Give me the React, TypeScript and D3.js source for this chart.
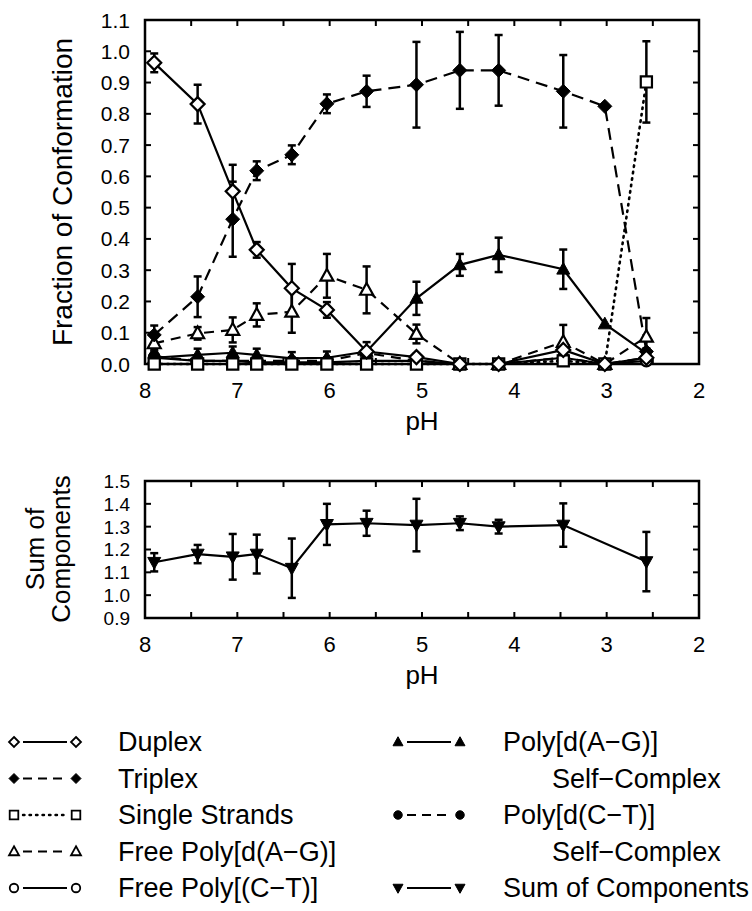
import { useEffect, useRef } from 'react'
import * as d3 from 'd3'

// pH of every measurement (top panel); the sum panel has no point at 3.02
const PH = [7.9, 7.43, 7.05, 6.79, 6.41, 6.03, 5.6, 5.06, 4.59, 4.17, 3.47, 3.02, 2.57]
const SUM_PH = [7.9, 7.43, 7.05, 6.79, 6.41, 6.03, 5.6, 5.06, 4.59, 4.17, 3.47, 2.57]

const DUPLEX = [0.963, 0.831, 0.552, 0.365, 0.242, 0.173, 0.04, 0.022, 0, 0, 0.045, 0, 0.02]
const DUPLEX_ERR = [0.03, 0.062, 0.085, 0.025, 0.078, 0.025, 0.01, 0.01, 0, 0, 0.02, 0, 0.01]
const TRIPLEX = [0.093, 0.215, 0.463, 0.618, 0.669, 0.832, 0.872, 0.893, 0.939, 0.939, 0.872, 0.824, 0.04]
const TRIPLEX_ERR = [0.03, 0.065, 0.12, 0.03, 0.03, 0.03, 0.05, 0.137, 0.123, 0.113, 0.116, 0, 0.01]
const SINGLE = [0, 0, 0, 0, 0, 0, 0, 0, 0, 0, 0.01, 0, 0.902]
const SINGLE_ERR = [0, 0, 0, 0, 0, 0, 0, 0, 0, 0, 0.01, 0, 0.13]
const FREE_AG = [0.066, 0.098, 0.109, 0.157, 0.167, 0.282, 0.237, 0.096, 0, 0, 0.07, 0, 0.087]
const FREE_AG_ERR = [0.02, 0.02, 0.04, 0.037, 0.067, 0.07, 0.075, 0.03, 0, 0, 0.055, 0, 0.06]
const FREE_CT = [0.02, 0.01, 0.01, 0.005, 0.005, 0.005, 0.01, 0.01, 0, 0, 0.02, 0, 0.01]
const FREE_CT_ERR = [0.01, 0.01, 0.01, 0.01, 0.01, 0.01, 0.01, 0.01, 0, 0, 0.01, 0, 0.01]
const AG_SELF = [0.02, 0.029, 0.036, 0.029, 0.018, 0.02, 0.04, 0.21, 0.317, 0.349, 0.303, 0.128, 0.034]
const AG_SELF_ERR = [0.02, 0.02, 0.02, 0.02, 0.02, 0.02, 0.03, 0.053, 0.035, 0.055, 0.063, 0, 0.01]
const CT_SELF = [0.025, 0.01, 0.01, 0.01, 0.01, 0.01, 0.035, 0.01, 0, 0, 0.02, 0, 0.02]
const CT_SELF_ERR = [0.01, 0.01, 0.01, 0.01, 0.01, 0.01, 0.01, 0.01, 0, 0, 0.01, 0, 0.01]

const SUM = [1.144, 1.18, 1.168, 1.18, 1.118, 1.31, 1.315, 1.307, 1.315, 1.3, 1.307, 1.147]
const SUM_ERR = [0.04, 0.04, 0.1, 0.085, 0.13, 0.09, 0.055, 0.115, 0.03, 0.03, 0.095, 0.13]

const X_TICKS = [8, 7, 6, 5, 4, 3, 2]
const TOP_Y_TICKS = [0, 0.1, 0.2, 0.3, 0.4, 0.5, 0.6, 0.7, 0.8, 0.9, 1.0, 1.1]
const BOT_Y_TICKS = [0.9, 1.0, 1.1, 1.2, 1.3, 1.4, 1.5]

const FONT = '"Liberation Sans", Arial, sans-serif'

type Shape = 'diamond' | 'square' | 'triangle' | 'triangleDown' | 'circle'

function markerPath(shape: Shape, s: number) {
  // s = half width of the marker
  switch (shape) {
    case 'diamond': return `M0,${-s}L${s},0L0,${s}L${-s},0Z`
    case 'square': return `M${-s * 0.86},${-s * 0.86}H${s * 0.86}V${s * 0.86}H${-s * 0.86}Z`
    case 'triangle': return `M0,${-s * 1.05}L${s},${s * 0.75}L${-s},${s * 0.75}Z`
    case 'triangleDown': return `M${-s},${-s * 0.75}L${s},${-s * 0.75}L0,${s * 1.05}Z`
    default: return d3.arc()({ innerRadius: 0, outerRadius: s * 0.85, startAngle: 0, endAngle: 2 * Math.PI }) as string
  }
}

const SERIES = [
  { name: 'Free Poly[(C-T)]', values: FREE_CT, err: FREE_CT_ERR, shape: 'circle' as Shape, filled: false, dash: null },
  { name: 'Poly[d(C-T)]', values: CT_SELF, err: CT_SELF_ERR, shape: 'circle' as Shape, filled: true, dash: '10,7' },
  { name: 'Poly[d(A-G)]', values: AG_SELF, err: AG_SELF_ERR, shape: 'triangle' as Shape, filled: true, dash: null },
  { name: 'Free Poly[d(A-G)]', values: FREE_AG, err: FREE_AG_ERR, shape: 'triangle' as Shape, filled: false, dash: '10,7' },
  { name: 'Single Strands', values: SINGLE, err: SINGLE_ERR, shape: 'square' as Shape, filled: false, dash: '1.5,5' },
  { name: 'Triplex', values: TRIPLEX, err: TRIPLEX_ERR, shape: 'diamond' as Shape, filled: true, dash: '12,7' },
  { name: 'Duplex', values: DUPLEX, err: DUPLEX_ERR, shape: 'diamond' as Shape, filled: false, dash: null },
]

export default function App() {
  const ref = useRef<SVGSVGElement>(null)

  useEffect(() => {
    const svg = d3.select(ref.current)
    svg.selectAll('*').remove()

    const x = d3.scaleLinear().domain([8, 2]).range([145, 699])
    const yTop = d3.scaleLinear().domain([0, 1.1]).range([364, 20])
    const yBot = d3.scaleLinear().domain([0.9, 1.5]).range([618, 481])

    function frame(y: d3.ScaleLinear<number, number>, yTicks: number[], labelSize: number) {
      const g = svg.append('g')
      const [yb, yt] = y.range()
      g.append('rect')
        .attr('x', 145).attr('y', yt).attr('width', 699 - 145).attr('height', yb - yt)
        .attr('fill', 'none').attr('stroke', '#000').attr('stroke-width', 2.5)
      // inward ticks on all four sides
      d3.range(2, 8.01, 0.5).forEach(p => {
        g.append('line').attr('x1', x(p)).attr('x2', x(p)).attr('y1', yb).attr('y2', yb - 6)
          .attr('stroke', '#000').attr('stroke-width', 2)
        g.append('line').attr('x1', x(p)).attr('x2', x(p)).attr('y1', yt).attr('y2', yt + 6)
          .attr('stroke', '#000').attr('stroke-width', 2)
      })
      yTicks.forEach(v => {
        g.append('line').attr('x1', 145).attr('x2', 151).attr('y1', y(v)).attr('y2', y(v))
          .attr('stroke', '#000').attr('stroke-width', 2)
        g.append('line').attr('x1', 699).attr('x2', 693).attr('y1', y(v)).attr('y2', y(v))
          .attr('stroke', '#000').attr('stroke-width', 2)
        g.append('text').attr('x', 130).attr('y', y(v)).attr('dy', '0.36em')
          .attr('text-anchor', 'end').attr('font-size', labelSize).attr('font-family', FONT)
          .text(v.toFixed(1))
      })
      X_TICKS.forEach(p => {
        g.append('text').attr('x', x(p)).attr('y', yb + 34)
          .attr('text-anchor', 'middle').attr('font-size', 22).attr('font-family', FONT)
          .text(p)
      })
      g.append('text').attr('x', (145 + 699) / 2).attr('y', yb + 66)
        .attr('text-anchor', 'middle').attr('font-size', 26).attr('font-family', FONT)
        .text('pH')
      return g
    }

    function errBars(g: any, xs: number[], vals: number[], errs: number[], y: d3.ScaleLinear<number, number>) {
      vals.forEach((v, i) => {
        const e = errs[i]
        if (!e) return
        const cx = x(xs[i])
        const y1 = y(v - e), y2 = y(v + e)
        g.append('line').attr('x1', cx).attr('x2', cx).attr('y1', y1).attr('y2', y2)
          .attr('stroke', '#000').attr('stroke-width', 2.5)
        ;[y1, y2].forEach(yy => g.append('line').attr('x1', cx - 4).attr('x2', cx + 4)
          .attr('y1', yy).attr('y2', yy).attr('stroke', '#000').attr('stroke-width', 2.5))
      })
    }

    function markers(g: any, xs: number[], vals: number[], y: d3.ScaleLinear<number, number>, shape: Shape, filled: boolean, s: number) {
      vals.forEach((v, i) => {
        g.append('path')
          .attr('transform', `translate(${x(xs[i])},${y(v)})`)
          .attr('d', markerPath(shape, s))
          .attr('fill', filled ? '#000' : '#fff')
          .attr('stroke', '#000').attr('stroke-width', filled ? 1 : 2.2)
      })
    }

    // ── top panel ──
    const top = frame(yTop, TOP_Y_TICKS, 21)
    svg.append('text')
      .attr('transform', 'translate(72,192) rotate(-90)')
      .attr('text-anchor', 'middle').attr('font-size', 28).attr('font-family', FONT)
      .text('Fraction of Conformation')

    SERIES.forEach(s => {
      const line = d3.line<number>().x((d, i) => x(PH[i])).y(d => yTop(d))
      top.append('path').attr('d', line(s.values))
        .attr('fill', 'none').attr('stroke', '#000').attr('stroke-width', s.dash === '1.5,5' ? 2.6 : 2.2)
        .attr('stroke-linecap', s.dash === '1.5,5' ? 'round' : 'butt')
        .attr('stroke-dasharray', s.dash)
    })
    SERIES.forEach(s => errBars(top, PH, s.values, s.err, yTop))
    SERIES.forEach(s => markers(top, PH, s.values, yTop, s.shape, s.filled, s.shape === 'diamond' ? 7 : 6.5))

    // ── bottom panel ──
    const bot = frame(yBot, BOT_Y_TICKS, 19)
    svg.append('text')
      .attr('transform', 'translate(44,549) rotate(-90)')
      .attr('text-anchor', 'middle').attr('font-size', 26).attr('font-family', FONT)
      .text('Sum of')
    svg.append('text')
      .attr('transform', 'translate(70,549) rotate(-90)')
      .attr('text-anchor', 'middle').attr('font-size', 26).attr('font-family', FONT)
      .text('Components')
    const sumLine = d3.line<number>().x((d, i) => x(SUM_PH[i])).y(d => yBot(d))
    bot.append('path').attr('d', sumLine(SUM))
      .attr('fill', 'none').attr('stroke', '#000').attr('stroke-width', 2.2)
    errBars(bot, SUM_PH, SUM, SUM_ERR, yBot)
    markers(bot, SUM_PH, SUM, yBot, 'triangleDown', true, 6.5)

    // ── legend ──
    const rowY = (r: number) => 742 + r * 36.5
    const legendLeft = [
      { label: 'Duplex', shape: 'diamond' as Shape, filled: false, dash: null },
      { label: 'Triplex', shape: 'diamond' as Shape, filled: true, dash: '9,6' },
      { label: 'Single Strands', shape: 'square' as Shape, filled: false, dash: '1.5,5' },
      { label: 'Free Poly[d(A-G)]', shape: 'triangle' as Shape, filled: false, dash: '9,6' },
      { label: 'Free Poly[(C-T)]', shape: 'circle' as Shape, filled: false, dash: null },
    ]
    const legendRight = [
      { row: 0, label: 'Poly[d(A-G)]', sub: 'Self\u2212Complex', shape: 'triangle' as Shape, filled: true, dash: null },
      { row: 2, label: 'Poly[d(C-T)]', sub: 'Self\u2212Complex', shape: 'circle' as Shape, filled: true, dash: '9,6' },
      { row: 4, label: 'Sum of Components', sub: null, shape: 'triangleDown' as Shape, filled: true, dash: null },
    ]
    const lg = svg.append('g')
    function legendKey(xa: number, xb: number, yy: number, shape: Shape, filled: boolean, dash: string | null) {
      lg.append('line').attr('x1', xa + 9).attr('x2', xb - 9).attr('y1', yy).attr('y2', yy)
        .attr('stroke', '#000').attr('stroke-width', dash === '1.5,5' ? 2.4 : 2.2)
        .attr('stroke-linecap', dash === '1.5,5' ? 'round' : 'butt')
        .attr('stroke-dasharray', dash)
      ;[xa, xb].forEach(xx => lg.append('path')
        .attr('transform', `translate(${xx},${yy})`)
        .attr('d', markerPath(shape, 5))
        .attr('fill', filled ? '#000' : '#fff')
        .attr('stroke', '#000').attr('stroke-width', filled ? 1 : 1.8))
    }
    const fmt = (t: string) => t.replace(/-/g, '\u2212')
    legendLeft.forEach((l, i) => {
      legendKey(14, 76, rowY(i), l.shape, l.filled, l.dash)
      lg.append('text').attr('x', 118).attr('y', rowY(i) + 9)
        .attr('font-size', 27).attr('font-family', FONT).text(fmt(l.label))
    })
    legendRight.forEach(l => {
      legendKey(398, 460, rowY(l.row), l.shape, l.filled, l.dash)
      lg.append('text').attr('x', 503).attr('y', rowY(l.row) + 9)
        .attr('font-size', 27).attr('font-family', FONT).text(fmt(l.label))
      if (l.sub) lg.append('text').attr('x', 552).attr('y', rowY(l.row + 1) + 9)
        .attr('font-size', 27).attr('font-family', FONT).text(l.sub)
    })
  }, [])

  return (
    <svg ref={ref} width={752} height={911}
      style={{ position: 'absolute', left: 0, top: 0, background: '#fff' }} />
  )
}
